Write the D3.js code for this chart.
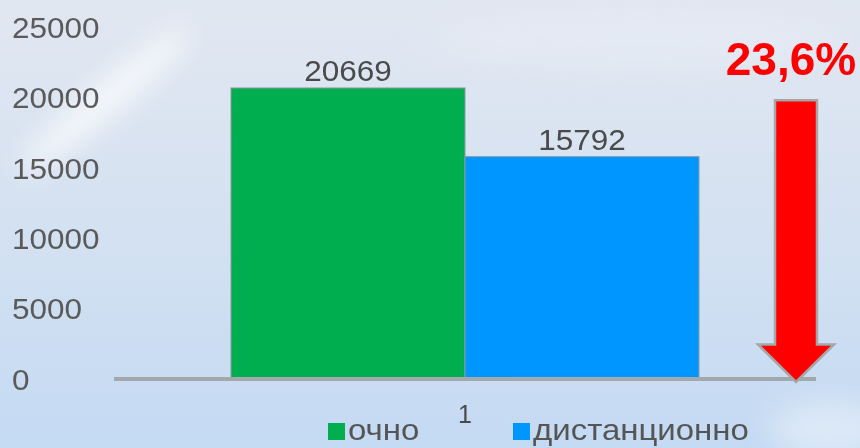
<!DOCTYPE html>
<html>
<head>
<meta charset="utf-8">
<script src="https://cdn.jsdelivr.net/npm/d3@7"></script>
<style>
html,body{margin:0;padding:0;background:#d5e2f2;}
svg{display:block;}
</style>
</head>
<body>
<svg id="chart" width="860" height="448"></svg>
<script>
const categories = ["1"];
const seriesNames = ["очно", "дистанционно"];
const seriesColors = ["#00ad4f", "#0096ff"];
const values = [20669, 15792];
const yTicks = [0, 5000, 10000, 15000, 20000, 25000];

const W = 860, H = 448;
const svg = d3.select("#chart");
const font = "'Liberation Sans', Arial, sans-serif";

// background sky
const defs = svg.append("defs");
const bg = defs.append("linearGradient").attr("id","bg").attr("x1",0).attr("y1",0).attr("x2",0).attr("y2",1);
bg.append("stop").attr("offset","0%").attr("stop-color","#e1e7f1");
bg.append("stop").attr("offset","45%").attr("stop-color","#d6e2f1");
bg.append("stop").attr("offset","100%").attr("stop-color","#c4daf3");
const blur = defs.append("filter").attr("id","blur").attr("x","-50%").attr("y","-50%").attr("width","200%").attr("height","200%");
blur.append("feGaussianBlur").attr("stdDeviation",14);
svg.append("rect").attr("width",W).attr("height",H).attr("fill","url(#bg)");
const clouds = svg.append("g").attr("filter","url(#blur)");
clouds.append("ellipse").attr("cx",105).attr("cy",100).attr("rx",110).attr("ry",16)
  .attr("transform","rotate(-40 105 100)").attr("fill","#ffffff").attr("opacity",0.75);
clouds.append("ellipse").attr("cx",640).attr("cy",40).attr("rx",220).attr("ry",30).attr("fill","#e8edf5").attr("opacity",0.6);
clouds.append("ellipse").attr("cx",830).attr("cy",430).attr("rx",60).attr("ry",30).attr("fill","#e6eef8").attr("opacity",0.7);

const x0 = 114, x1 = 816;
const y = d3.scaleLinear().domain([0, 25000]).range([379, 27]);
const xBand = d3.scaleBand().domain(categories).range([x0, x1]).padding(0.2);
const xSeries = d3.scaleBand().domain(seriesNames).range([0, xBand.bandwidth()]).padding(0);

// y tick labels
svg.append("g").selectAll("text").data(yTicks).join("text")
  .attr("transform", d => `translate(12,${y(d)}) scale(1.05,1)`)
  .attr("dy","0.36em")
  .attr("font-family", font).attr("font-size", 30).attr("fill","#5a5a5a")
  .text(d => d);

// bars
const rows = seriesNames.map((s,i)=>({s, v: values[i], c: seriesColors[i]}));
const g = svg.append("g");
g.selectAll("rect").data(rows).join("rect")
  .attr("x", d => xBand(categories[0]) + xSeries(d.s))
  .attr("y", d => y(d.v))
  .attr("width", xSeries.bandwidth())
  .attr("height", d => y(0) - y(d.v))
  .attr("fill", d => d.c)
  .attr("stroke", "#8c9aa6").attr("stroke-width", 1);

g.selectAll("text").data(rows).join("text")
  .attr("transform", d => `translate(${xBand(categories[0]) + xSeries(d.s) + xSeries.bandwidth()/2},${y(d.v) - 7}) scale(1.05,1)`)
  .attr("text-anchor","middle")
  .attr("font-family", font).attr("font-size", 30).attr("fill","#4a4a4a")
  .text(d => d.v);

// x axis line
svg.append("line").attr("x1", x0).attr("x2", x1).attr("y1", y(0)).attr("y2", y(0))
  .attr("stroke","#a3a8ad").attr("stroke-width",4);

// category label
svg.append("text").attr("x", xBand(categories[0]) + xBand.bandwidth()/2).attr("y", 423)
  .attr("text-anchor","middle").attr("font-family", font).attr("font-size", 25).attr("fill","#4a4a4a")
  .text(categories[0]);

// legend
const legendX = [328, 513];
const lg = svg.append("g");
rows.forEach((d,i)=>{
  lg.append("rect").attr("x", legendX[i]).attr("y", 423).attr("width",17).attr("height",17).attr("fill", d.c);
  lg.append("text").attr("transform", `translate(${legendX[i] + 20},440) scale(1.1,1)`)
    .attr("font-family", font).attr("font-size", 30).attr("fill","#555")
    .text(d.s);
});

// arrow annotation
const drop = (values[0]-values[1])/values[0]*100;
const ax = 796;
const shaftW = 42, headW = 76;
const topY = y(19800), tipY = y(0) + 3, headY = y(2450);
const arrowPts = [
  [ax - shaftW/2, topY], [ax + shaftW/2, topY], [ax + shaftW/2, headY],
  [ax + headW/2, headY], [ax, tipY], [ax - headW/2, headY], [ax - shaftW/2, headY]
];
svg.append("path").attr("d", d3.line()(arrowPts) + "Z")
  .attr("fill","#ff0000").attr("stroke","#a6a6a6").attr("stroke-width",2.5).attr("stroke-linejoin","miter");

svg.append("text").attr("x", 791).attr("y", 75).attr("text-anchor","middle")
  .attr("font-family", font).attr("font-size", 46).attr("font-weight","bold").attr("fill","#ff0000")
  .text(drop.toFixed(1).replace(".", ",") + "%");
</script>
</body>
</html>
